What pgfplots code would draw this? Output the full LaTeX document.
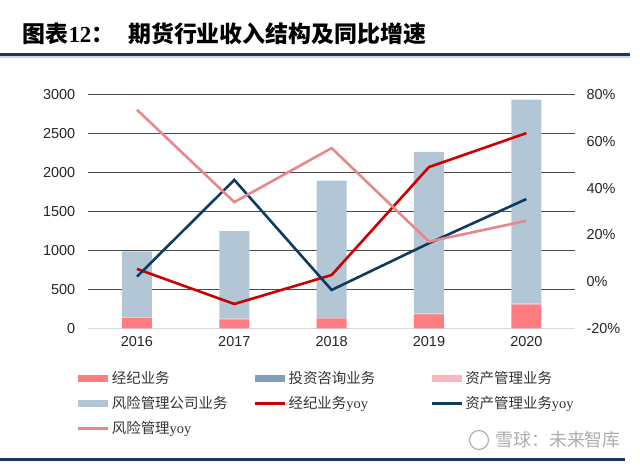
\documentclass[border=0pt]{standalone}
\usepackage{pgfplots}
\pgfplotsset{compat=1.18}
\usepackage{fontspec}
\setmainfont{Liberation Sans}
\newfontfamily\cjk{Noto Sans CJK SC}
\newfontfamily\serif{Liberation Serif}
\definecolor{broker}{HTML}{FF7C80}
\definecolor{consult}{HTML}{7F9FBA}
\definecolor{asset}{HTML}{F8B9BC}
\definecolor{risk}{HTML}{B3C6D6}
\definecolor{redline}{HTML}{CC0000}
\definecolor{navyline}{HTML}{0F3B5F}
\definecolor{pinkline}{HTML}{E8878B}
\definecolor{rulec}{HTML}{17375E}
\pgfplotsset{
  barleg/.style={legend image code/.code={\fill[##1, draw=none] (0bp,-3.5bp) rectangle (30bp,3.5bp);}},
  lineleg/.style={legend image code/.code={\draw[##1] (0bp,0bp) -- (30bp,0bp);}},
}
\newcommand{\legtxt}[1]{\makebox[139.5bp][l]{\vphantom{风y}#1}}
\begin{document}
\begin{tikzpicture}
\path[use as bounding box] (0bp,0bp) rectangle (640bp,467bp);
% rules
\fill[rulec] (0bp,410.5bp) rectangle (630bp,413.5bp);
\fill[rulec!20] (0bp,409bp) rectangle (630bp,410.5bp);
\fill[rulec] (0bp,6bp) rectangle (625bp,9bp);
% title
\node[anchor=west, inner sep=0pt] at (22.5bp,433.5bp) {\fontsize{23}{26}\selectfont{\cjk\bfseries 图表}{\serif\bfseries 12}{\cjk\bfseries ：}};
\node[anchor=west, inner sep=0pt] at (128bp,433.5bp) {\fontsize{23}{26}\selectfont\cjk\bfseries 期货行业收入结构及同比增速};
% watermark
\draw[black!30, line width=1.2bp] (479bp,27bp) circle (9.5bp);
\node[anchor=east, inner sep=0pt, text=black!32] at (621bp,27bp) {\fontsize{18}{20}\selectfont\cjk 雪球：未来智库};

\begin{axis}[at={(88.3bp,372.4bp)}, anchor=north west, scale only axis,
  width=486.7bp, height=233.7bp,
  xmin=-0.5, xmax=4.5, ymin=0, ymax=3000,
  ybar stacked, bar width=30bp,
  xtick={0,1,2,3,4}, xticklabels={2016,2017,2018,2019,2020},
  ytick={500,1000,...,3000}, extra y ticks={0}, extra y tick style={grid=none},
  ymajorgrids, grid style={color=black!70, line width=0.8bp},
  axis x line*=bottom, x axis line style={-, color=black!15, line width=1.2bp},
  axis y line*=left, y axis line style={draw=none},
  major tick length=0pt,
  tick label style={font=\fontsize{14.5}{16}\selectfont, color=black!85},
  yticklabel style={xshift=-9.5bp}, xticklabel style={yshift=-4.6bp},
  scaled y ticks=false,
  /pgf/number format/assume math mode=true,
  /pgf/number format/1000 sep={},
]
\addplot[fill=broker, draw=none] coordinates {(0,130) (1,115) (2,120) (3,180) (4,304)};
\addplot[fill=consult, draw=none] coordinates {(0,1) (1,1) (2,1) (3,1) (4,1)};
\addplot[fill=asset, draw=none] coordinates {(0,6) (1,8) (2,9) (3,10) (4,11)};
\addplot[fill=risk, draw=none] coordinates {(0,850) (1,1123) (2,1767) (3,2074) (4,2620)};
\end{axis}

\begin{axis}[at={(88.3bp,372.4bp)}, anchor=north west, scale only axis,
  width=486.7bp, height=233.7bp,
  xmin=-0.5, xmax=4.5, ymin=-20, ymax=80,
  hide x axis,
  axis y line*=right, y axis line style={draw=none},
  ytick={-20,0,20,40,60,80},
  yticklabel={\pgfmathprintnumber{\tick}\%},
  major tick length=0pt,
  tick label style={font=\fontsize{14.5}{16}\selectfont, color=black!85},
  yticklabel style={xshift=8bp},
  /pgf/number format/assume math mode=true,
  legend columns=3,
  legend cell align=left,
  legend style={draw=none, fill=none, at={(-0.0238,-0.176)}, anchor=north west,
    inner sep=0pt, outer sep=0pt, row sep=7.4bp,
    font=\fontsize{14.5}{17}\selectfont\cjk, text=black!80,
    /tikz/every odd column/.append style={column sep=0.2bp}},
]
\addlegendimage{barleg, fill=broker}
\addlegendentry{\legtxt{经纪业务}}
\addlegendimage{barleg, fill=consult}
\addlegendentry{\legtxt{投资咨询业务}}
\addlegendimage{barleg, fill=asset}
\addlegendentry{\legtxt{资产管理业务}}
\addlegendimage{barleg, fill=risk}
\addlegendentry{\legtxt{风险管理公司业务}}
\addlegendimage{lineleg, redline, line width=3bp}
\addlegendentry{\legtxt{经纪业务{\serif yoy}}}
\addlegendimage{lineleg, navyline, line width=3bp}
\addlegendentry{\legtxt{资产管理业务{\serif yoy}}}
\addlegendimage{lineleg, pinkline, line width=3bp}
\addlegendentry{\legtxt{风险管理{\serif yoy}}}
\addplot[redline, line width=2.6bp, mark=none] coordinates {(0,5.4) (1,-9.6) (2,2.8) (3,49) (4,63.5)};
\addplot[navyline, line width=2.6bp, mark=none] coordinates {(0,2.1) (1,43.5) (2,-3.6) (3,16.4) (4,35.3)};
\addplot[pinkline, line width=2.6bp, mark=none] coordinates {(0,73.5) (1,34) (2,57.1) (3,17.1) (4,26)};
\end{axis}
\end{tikzpicture}
\end{document}
